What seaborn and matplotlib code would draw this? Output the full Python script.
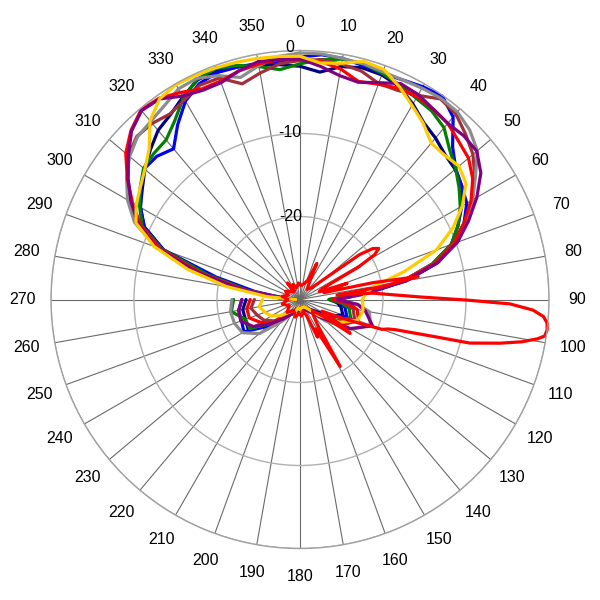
import numpy as np
import pandas as pd
import seaborn as sns
import matplotlib
matplotlib.use("Agg")
import matplotlib.pyplot as plt

# angles (deg, clockwise from north): front every 5 deg from 270 (=-90) to 95, then back every 10 deg
front_angles = list(range(-90, 100, 5))
back_angles = list(range(100, 280, 10))

# relative level in dB
navy_front = [-29.5, -27.5, -23.5, -18.5, -12.5, -9.3, -7.8, -6.8, -5.6, -4.5, -3.4, -2.8, -1.8, -0.8, -0.7, -1.0, -1.3, -1.6,
              -1.9, -2.5, -1.5, -1.1, -1.2, -1.7, -2.8, -4.0, -4.6, -5.3, -5.6, -6.2, -7.5, -9.0, -10.6, -13.5, -17.5, -23.0, -26.5, -25.5]
navy_back = [-25.0, -24.5, -26.0, -28.0, -28.5, -29.0, -29.0, -28.8, -29.0, -28.5, -28.8, -28.0, -27.5, -25.5, -22.8, -23.0, -23.0, -23.5]

blue_front = [-29.5, -28.0, -24.5, -19.5, -12.5, -9.3, -7.8, -6.6, -5.5, -5.6, -6.3, -4.3, -2.4, -1.3, -0.9, -1.0, -1.1, -1.2,
              -0.8, -0.4, -0.5, -0.8, -1.0, -0.8, -0.4, -0.1, -1.3, -4.0, -5.5, -6.2, -6.8, -8.2, -10.3, -12.8, -17.0, -22.0, -25.5, -25.0]
blue_back = [-24.5, -24.0, -26.0, -27.5, -28.5, -29.0, -28.5, -29.0, -28.8, -29.0, -28.5, -28.0, -27.0, -25.0, -22.2, -22.5, -22.5, -23.0]

green_front = [-29.5, -27.5, -23.5, -18.5, -12.3, -9.0, -7.7, -6.5, -5.4, -5.1, -4.9, -3.7, -1.9, -0.7, -0.4, -0.8, -1.5, -2.2,
               -1.6, -1.0, -0.6, -0.6, -1.0, -1.5, -2.0, -2.3, -3.0, -4.5, -5.5, -6.6, -7.7, -9.0, -10.6, -13.5, -17.5, -23.0, -26.5, -25.0]
green_back = [-24.0, -23.5, -25.0, -27.5, -28.5, -29.0, -29.0, -28.5, -29.0, -28.8, -28.5, -28.0, -27.0, -25.5, -23.0, -23.0, -21.6, -22.0]

brown_front = [-29.5, -27.5, -22.5, -17.5, -11.8, -8.5, -6.5, -4.7, -3.0, -2.2, -2.3, -2.7, -2.2, -1.5, -1.6, -3.1, -2.3, -1.5,
               -1.2, -1.0, -1.2, -1.5, -2.3, -2.2, -1.6, -0.5, -0.8, -1.8, -2.8, -4.3, -6.0, -8.0, -10.2, -13.2, -17.5, -23.0, -26.0, -24.5]
brown_back = [-23.5, -23.0, -25.0, -27.5, -28.5, -29.0, -28.8, -29.0, -29.0, -28.5, -28.8, -28.0, -27.5, -26.0, -25.0, -24.5, -24.0, -24.5]

gray_front = [-29.5, -27.0, -22.0, -17.0, -11.5, -8.0, -6.0, -4.5, -3.2, -2.3, -2.0, -1.5, -0.7, -0.6, -1.3, -2.3, -1.4, -0.6,
              -0.3, -0.3, -0.5, -0.6, -0.8, -0.8, -0.6, -0.4, -0.5, -1.1, -2.1, -4.2, -6.0, -8.0, -10.2, -13.2, -17.5, -22.5, -25.5, -23.0]
gray_back = [-21.5, -21.0, -22.8, -26.0, -28.0, -28.5, -29.0, -29.0, -28.5, -29.0, -28.5, -28.0, -26.5, -23.6, -22.0, -21.6, -21.5, -21.8]

red_front = [-29.5, -27.5, -23.0, -17.5, -12.0, -8.8, -6.7, -4.6, -2.6, -1.2, -0.2, -0.4, -1.2, -2.0, -2.0, -1.5, -1.2, -1.0,
             -1.0, -1.2, -1.8, -2.8, -2.4, -1.9, -1.8, -2.0, -2.3, -3.0, -3.5, -4.6, -6.2, -8.2, -10.3, -13.2, -17.5, -23.0, -26.0, -24.0]
red_back = [-23.0, -22.5, -24.0, -27.0, -28.5, -29.0, -29.0, -28.8, -29.0, -29.0, -28.5, -28.5, -27.5, -25.5, -24.5, -23.5, -23.5, -24.0]

purple_front = [-29.5, -27.5, -22.5, -17.0, -11.5, -8.5, -6.5, -4.7, -3.0, -1.3, -0.3, -0.5, -1.7, -2.2, -2.2, -1.5, -0.9, -1.0,
                -1.0, -1.8, -2.6, -2.9, -2.2, -1.3, -1.5, -2.0, -2.3, -2.1, -2.2, -3.4, -5.4, -7.6, -9.8, -12.8, -17.0, -22.5, -25.5, -23.0]
purple_back = [-22.0, -20.7, -23.0, -26.5, -28.0, -28.5, -29.0, -29.0, -29.0, -28.5, -28.5, -28.0, -27.0, -25.5, -23.5, -22.4, -22.5, -23.0]

yellow_front = [-29.5, -26.0, -21.0, -16.0, -11.3, -8.2, -7.2, -6.5, -5.6, -4.3, -1.9, -0.5, -0.1, -0.2, -0.3, -0.4, -0.5, -0.6,
                -0.7, -1.4, -1.1, -0.3, -0.5, -1.7, -3.0, -4.1, -5.4, -5.4, -5.0, -5.6, -7.4, -9.7, -12.5, -17.0, -21.0, -22.0, -22.5, -22.4]
yellow_back = [-22.3, -22.6, -24.5, -27.0, -28.5, -29.0, -29.0, -29.0, -28.8, -29.0, -28.5, -28.5, -28.0, -27.0, -26.0, -25.5, -25.0, -25.5]

# narrow beam trace
beam_angles = [-90, -80, -70, -60, -50, -40, -37, -34, -25, -15, -5, 5, 15, 22, 25, 28, 35, 45, 50, 53, 55, 57, 59, 61,
               64, 68, 71, 74, 77, 79, 81, 83, 85, 88.8, 90.2, 91.2, 92.6, 94.0, 95.4, 97, 98.5, 99.4, 100.8, 102.3, 104.4,
               105.5, 107.6, 108.5, 110, 113, 118, 122, 124, 126, 132, 140, 146, 149, 152, 155, 158, 165, 175, 185, 195,
               210, 225, 240, 255, 270]
beam_db = [-28.5, -27.8, -28.5, -28.0, -28.5, -28.8, -27.5, -28.8, -28.0, -28.5, -28.0, -28.3, -28.0, -27.5, -25.2, -27.5,
           -28.5, -28.0, -26.0, -21.0, -19.3, -18.7, -19.5, -22.0, -27.0, -27.5, -24.0, -27.0, -21.0, -15.5, -20.0, -25.5,
           -21.2, -15.5, -9.9, -4.7, -1.9, -0.6, -0.1, 0.0, -0.2, -1.0, -2.8, -5.3, -8.9, -13.4, -18.0, -18.8, -19.5,
           -23.5, -27.0, -24.0, -22.7, -26.5, -28.0, -27.5, -26.0, -20.6, -26.0, -25.0, -28.0, -28.5, -28.0, -28.3,
           -27.8, -28.5, -27.8, -28.5, -27.8, -28.5]

series = [
    ("navy", navy_front, navy_back, "#000080"),
    ("blue", blue_front, blue_back, "#0000ff"),
    ("green", green_front, green_back, "#008000"),
    ("brown", brown_front, brown_back, "#a0303a"),
    ("gray", gray_front, gray_back, "#8c8c8c"),
    ("red", red_front, red_back, "#ff0000"),
    ("purple", purple_front, purple_back, "#800080"),
    ("yellow", yellow_front, yellow_back, "#ffcc00"),
]

rows = []
for name, f, b, c in series:
    for a, v in zip(front_angles + back_angles, f + b):
        rows.append((name, np.deg2rad(a), v))
for a, v in zip(beam_angles, beam_db):
    rows.append(("beam", np.deg2rad(a), v))
df = pd.DataFrame(rows, columns=["series", "theta", "db"])

palette = {name: c for name, _, _, c in series}
palette["beam"] = "#ff0000"
order = [s[0] for s in series] + ["beam"]

sns.set_theme(style="white")
plt.rcParams["font.family"] = ["Liberation Sans", "DejaVu Sans"]

fig = plt.figure(figsize=(6, 6), dpi=100)
ax = fig.add_axes([51 / 600, 51.5 / 600, 498 / 600, 498 / 600], projection="polar")
ax.set_theta_zero_location("N")
ax.set_theta_direction(-1)

sns.lineplot(data=df, x="theta", y="db", hue="series", hue_order=order, palette=palette,
             sort=False, estimator=None, legend=False, linewidth=2.3, ax=ax)
for ln in ax.lines:
    ln.set_clip_on(False)
    ln.set_solid_joinstyle("round")

ax.set_ylim(-30, 0)
ax.set_yticks([-30, -20, -10, 0])
ax.set_yticklabels([])
ax.set_xlabel("")
ax.set_ylabel("")

tick_deg = list(range(0, 360, 10))
ax.set_thetagrids(tick_deg, [str(d) for d in tick_deg], fontsize=11.5, color="black")
ax.tick_params(axis="x", pad=13.5, length=0)

ax.xaxis.grid(True, color="#6a6a6a", linewidth=0.8)
ax.yaxis.grid(True, color="#b0b0b0", linewidth=1.0)
ax.spines["polar"].set_color("#a0a0a0")
ax.spines["polar"].set_linewidth(1.0)
ax.set_axisbelow(True)

for v, dy in [(0, 2.5), (-10, 1.0), (-20, 0.0)]:
    ax.annotate(str(v), xy=(0, v), xytext=(-7, dy), textcoords="offset points",
                ha="center", va="center", fontsize=11.5, color="black")

fig.savefig("out.png", dpi=100)
